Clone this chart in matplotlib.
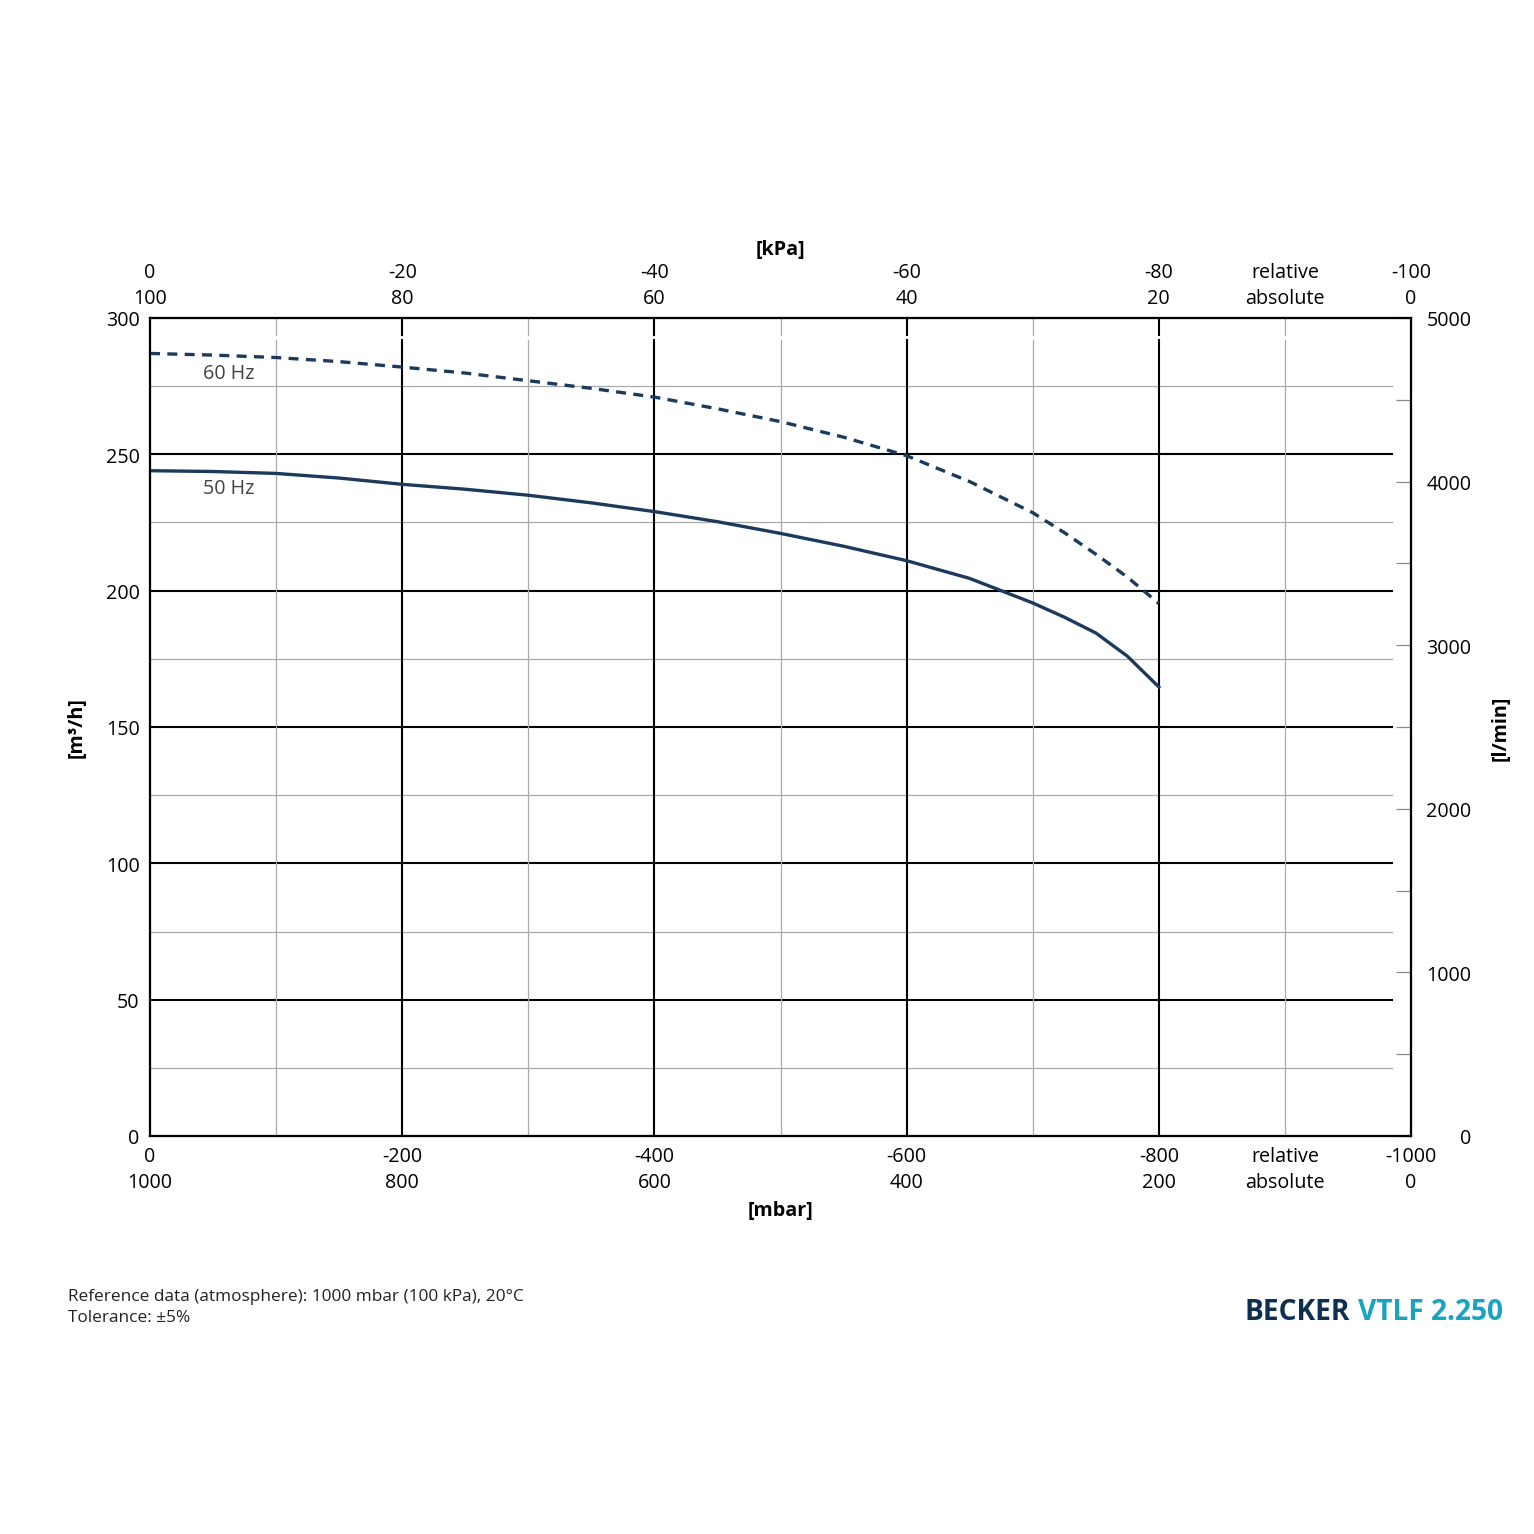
import matplotlib
matplotlib.use("Agg")
import matplotlib.pyplot as plt
import numpy as np

plt.rcParams['font.family'] = ['Open Sans', 'DejaVu Sans']

vac = [0, 50, 100, 150, 200, 250, 300, 350, 400, 450, 500, 550, 600, 650, 700, 725, 750, 775, 800]
flow50 = [244, 243.7, 243, 241.3, 239, 237.2, 235, 232.2, 229, 225.3, 221, 216.3, 211, 204.5, 195.5, 190.3, 184.5, 176, 164.7]
flow60 = [287, 286.4, 285.5, 284, 282, 279.8, 277, 274.2, 271, 266.7, 262, 256.3, 249.5, 240, 228.6, 221.3, 213.4, 205, 195.3]

bot_ticks = [0, 200, 400, 600, 800, 900, 1000]
bot_labels = ["0\n1000", "-200\n800", "-400\n600", "-600\n400", "-800\n200", "relative\nabsolute", "-1000\n0"]
top_labels = ["0\n100", "-20\n80", "-40\n60", "-60\n40", "-80\n20", "relative\nabsolute", "-100\n0"]
y_ticks = [0, 50, 100, 150, 200, 250, 300]
r_ticks = [0, 1000, 2000, 3000, 4000, 5000]

col = '#1b3a5c'
fig = plt.figure(figsize=(1535/150, 1535/150), dpi=150)
ax = fig.add_axes([150/1535, 1-1137/1535, 1261/1535, 818/1535])
ax.set_xlim(0, 1000)
ax.set_ylim(0, 300)
for s in ax.spines.values():
    s.set_linewidth(1.0)

for y in range(25, 300, 25):
    major = y % 50 == 0
    ax.plot([0, 985], [y, y], color='black' if major else '#aaaaaa',
            lw=1.0 if major else 0.6, zorder=1)
for x in range(100, 1000, 100):
    major = x % 200 == 0 and x <= 800
    c = 'black' if major else '#aaaaaa'
    lw = 1.0 if major else 0.6
    ax.plot([x, x], [0, 291.8], color=c, lw=lw, zorder=1)
    ax.plot([x, x], [293.8, 300], color=c, lw=lw, zorder=1)

ax.plot(vac, flow50, color=col, lw=1.6, zorder=3, solid_joinstyle='round')
ax.plot(vac, flow60, color=col, lw=1.6, ls=(0, (3, 2.2)), zorder=3)
ax.text(42, 280, "60 Hz", fontsize=9.5, color='#444444', va='center')
ax.text(42, 237.5, "50 Hz", fontsize=9.5, color='#444444', va='center')

ax.set_xticks(bot_ticks)
ax.set_xticklabels(bot_labels, fontsize=9.5, linespacing=1.35)
ax.set_yticks(y_ticks)
ax.set_yticklabels([str(v) for v in y_ticks], fontsize=9.5)
ax.tick_params(axis='both', length=0, pad=5)
ax.set_xlabel("[mbar]", fontsize=9.5, fontweight='bold', labelpad=4)
ax.set_ylabel("[m³/h]", fontsize=9.5, fontweight='bold', labelpad=9)

axt = ax.twiny()
axt.set_xlim(0, 1000)
axt.set_xticks(bot_ticks)
axt.set_xticklabels(top_labels, fontsize=9.5, linespacing=1.35)
axt.tick_params(axis='x', length=0, pad=5)
axt.set_xlabel("[kPa]", fontsize=9.5, fontweight='bold', labelpad=4)

axr = ax.twinx()
axr.set_ylim(0, 5000)
axr.set_yticks(r_ticks)
axr.set_yticklabels([str(v) for v in r_ticks], fontsize=9.5, ha='right')
axr.set_yticks(range(500, 5000, 1000), minor=True)
axr.tick_params(axis='y', which='major', direction='in', length=7, width=0.6, color='#888888', pad=29)
axr.tick_params(axis='y', which='minor', direction='in', length=7, width=0.6, color='#888888')
axr.set_ylabel("[l/min]", fontsize=9.5, fontweight='bold', labelpad=9)
for a in (axt, axr):
    for s in a.spines.values():
        s.set_linewidth(1.0)

fig.text(68/1535, 1-1297/1535, "Reference data (atmosphere): 1000 mbar (100 kPa), 20°C",
         fontsize=8.3, va='center', color='#222222')
fig.text(68/1535, 1-1318/1535, "Tolerance: ±5%", fontsize=8.3, va='center', color='#222222')
t1 = fig.text(1503/1535, 1-1313/1535, "VTLF 2.250", fontsize=13.5, fontweight='bold',
              color='#1aa3c0', ha='right', va='center')
fig.canvas.draw()
bb = t1.get_window_extent()
fig.text((bb.x0 - 8)/fig.bbox.width, 1-1313/1535, "BECKER", fontsize=13.5, fontweight='bold',
         color='#0d3050', ha='right', va='center')
fig.savefig("out.png", dpi=150)
